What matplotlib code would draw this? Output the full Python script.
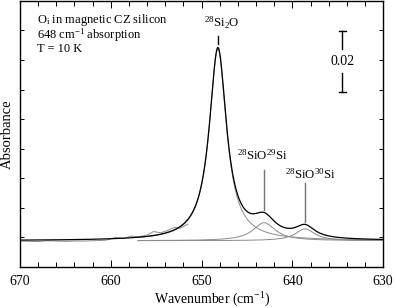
import numpy as np
import matplotlib
matplotlib.use('Agg')
import matplotlib.pyplot as plt
from matplotlib.ticker import MultipleLocator

plt.rcParams['font.family'] = 'Liberation Serif'
plt.rcParams['mathtext.fontset'] = 'custom'
plt.rcParams['mathtext.rm'] = 'Liberation Serif'
plt.rcParams['mathtext.it'] = 'Liberation Serif:italic'

# fitted Lorentzian components: centre (cm-1), half width (cm-1), height (absorbance)
peak_names = [r'$^{28}$Si$_2$O', r'$^{28}$SiO$^{29}$Si', r'$^{28}$SiO$^{30}$Si']
peak_centres = [648.2, 643.1, 638.6]
peak_hwhm = [1.15, 1.5, 1.3]
peak_heights = [0.0648, 0.0061, 0.0040]
baseline = 0.0089

data_wn = [670, 669, 668, 667, 666, 665, 664, 663, 662, 661, 660.5, 659.5, 658.5,
           657.7, 657, 656, 655.3, 654.5, 653.7, 653, 652.4, 651.5]
data_abs = [0.0088, 0.0087, 0.0086, 0.0089, 0.0088, 0.0087, 0.0088, 0.0088, 0.0089,
            0.0090, 0.0091, 0.0100, 0.0097, 0.0105, 0.0102, 0.0108, 0.0120, 0.0116,
            0.0124, 0.0134, 0.0131, 0.0145]


def lorentz(x, c, w, h):
    return h / (1 + ((x - c) / w) ** 2)


fig = plt.figure(figsize=(3.96, 3.08), dpi=100)
ax = fig.add_axes([0.0505, 0.133, 0.917, 0.864])

x = np.linspace(670, 630, 1600)
total = baseline + sum(lorentz(x, c, w, h) for c, w, h in zip(peak_centres, peak_hwhm, peak_heights))

xc = np.linspace(657, 630, 1000)
for c, w, h in zip(peak_centres, peak_hwhm, peak_heights):
    ax.plot(xc, baseline + lorentz(xc, c, w, h), color='0.55', lw=0.7)

ax.plot(data_wn, data_abs, color='0.55', lw=0.7)
ax.plot(x, total, color='black', lw=0.9)

# peak labels
label_pos = [(647.8, 0.0825), (643.3, 0.0377), (638.0, 0.0313)]
marker_lines = [(0.0780, 0.0755), (0.0327, 0.0192), (0.0283, 0.0152)]
for name, c, (lx, ly), (y0, y1) in zip(peak_names, peak_centres, label_pos, marker_lines):
    ax.text(lx, ly, name, ha='center', va='center', fontsize=9.2)
    ax.plot([c, c], [y0, y1], color='black' if c > 645 else '0.45', lw=1)

# scale bar
ax.plot([634.5, 634.5], [0.0593, 0.0655], color='black', lw=1)
ax.plot([634.5, 634.5], [0.0737, 0.0799], color='black', lw=1)
ax.plot([634.9, 634.1], [0.0593, 0.0593], color='black', lw=1)
ax.plot([634.9, 634.1], [0.0799, 0.0799], color='black', lw=1)
ax.text(634.5, 0.0696, '0.02', ha='center', va='center', fontsize=10)

ax.text(668.1, 0.0836, r'O$_\mathrm{i}$ in magnetic CZ silicon', fontsize=9, va='center')
ax.text(668.1, 0.0785, r'648 cm$^{-1}$ absorption', fontsize=9, va='center')
ax.text(668.1, 0.0736, 'T = 10 K', fontsize=9, va='center')

ax.set_xlim(670, 630)
ax.set_ylim(0, 0.09)
ax.xaxis.set_major_locator(MultipleLocator(10))
ax.xaxis.set_minor_locator(MultipleLocator(2))
ax.yaxis.set_major_locator(MultipleLocator(0.01))
ax.tick_params(which='both', direction='in', top=True, right=True, width=0.7)
ax.tick_params(which='major', length=5, labelsize=10, pad=6)
ax.tick_params(which='minor', length=3.5)
ax.tick_params(axis='y', length=3, labelleft=False)
ax.set_xticks([670, 660, 650, 640, 630])
ax.set_xticklabels(['670', '660', '650', '640', '630'])
for s in ax.spines.values():
    s.set_linewidth(1.0)

ax.set_xlabel(r'Wavenumber (cm$^{-1}$)', fontsize=10, va='center')
ax.xaxis.set_label_coords(0.53, -0.122)
ax.set_ylabel('Absorbance', fontsize=10.5, va='center')
ax.yaxis.set_label_coords(-0.034, 0.5)

fig.savefig('out.png', dpi=100)
